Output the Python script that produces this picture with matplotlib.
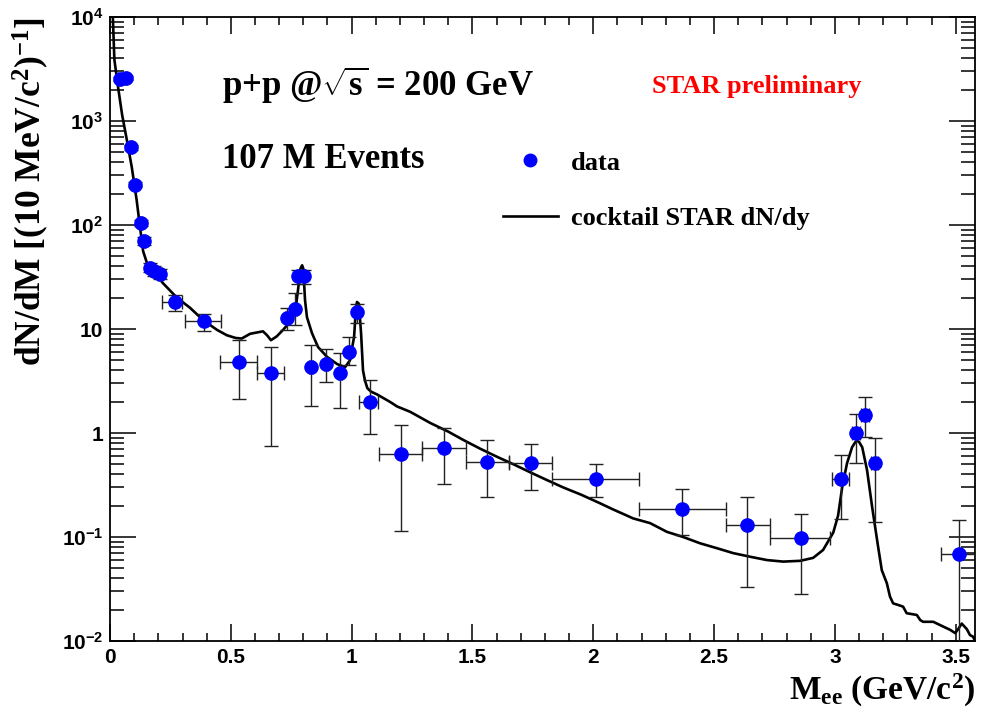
import numpy as np
import matplotlib
matplotlib.use('Agg')
import matplotlib.pyplot as plt
from matplotlib.lines import Line2D
from matplotlib.ticker import MultipleLocator, LogLocator, NullFormatter

plt.rcParams['mathtext.fontset'] = 'custom'
plt.rcParams['mathtext.rm'] = 'Liberation Serif:bold'
plt.rcParams['mathtext.it'] = 'Liberation Serif:bold'
plt.rcParams['mathtext.bf'] = 'Liberation Serif:bold'
plt.rcParams['mathtext.sf'] = 'Liberation Sans:bold'

# data points
m_data = [0.041, 0.066, 0.087, 0.104, 0.128, 0.141, 0.166, 0.182, 0.207, 0.27,
          0.39, 0.534, 0.666, 0.733, 0.766, 0.78, 0.802, 0.832, 0.894, 0.952,
          0.989, 1.022, 1.076, 1.204, 1.382, 1.56, 1.742, 2.01, 2.368, 2.637,
          2.86, 3.026, 3.088, 3.125, 3.166, 3.514]
y_data = [2550, 2600, 560, 245, 104, 70, 39, 36, 34, 18,
          11.9, 4.8, 3.8, 12.8, 15.5, 32, 32, 4.3, 4.6, 3.8,
          6.0, 14.5, 2.0, 0.63, 0.71, 0.53, 0.52, 0.36, 0.185, 0.13,
          0.097, 0.36, 1.0, 1.5, 0.52, 0.068]
y_low = [2450, 2500, 530, 232, 97, 64, 35, 32, 30, 15,
         9.6, 2.1, 0.75, 9.8, 11, 27, 27, 1.8, 3.1, 1.75,
         4.5, 11.5, 0.98, 0.115, 0.32, 0.24, 0.28, 0.24, 0.105, 0.033,
         0.028, 0.15, 0.52, 0.92, 0.14, 0.005]
y_high = [2650, 2700, 590, 258, 111, 76, 43, 40, 38, 21,
          14, 7.8, 6.7, 16, 22, 37, 37, 7.0, 6.4, 5.9,
          8.3, 17.5, 3.2, 1.19, 1.12, 0.86, 0.78, 0.50, 0.29, 0.24,
          0.165, 0.61, 1.52, 2.2, 0.9, 0.145]
m_low = [0.035, 0.06, 0.082, 0.099, 0.123, 0.136, 0.161, 0.177, 0.2, 0.215,
         0.31, 0.455, 0.61, 0.725, 0.757, 0.775, 0.797, 0.822, 0.884, 0.942,
         0.98, 1.015, 1.03, 1.113, 1.291, 1.473, 1.651, 1.83, 2.19, 2.55,
         2.73, 2.99, 3.072, 3.11, 3.15, 3.44]
m_high = [0.047, 0.072, 0.092, 0.109, 0.133, 0.146, 0.171, 0.187, 0.214, 0.298,
          0.46, 0.61, 0.72, 0.742, 0.772, 0.785, 0.807, 0.842, 0.904, 0.962,
          0.998, 1.03, 1.11, 1.291, 1.473, 1.651, 1.83, 2.19, 2.55, 2.73,
          2.98, 3.06, 3.104, 3.14, 3.18, 3.58]

# cocktail curve
m_cock = [0.012, 0.018, 0.033, 0.05, 0.07, 0.09, 0.11, 0.124, 0.137, 0.153,
          0.178, 0.219, 0.277, 0.331, 0.385, 0.443, 0.484, 0.52, 0.545, 0.58,
          0.633, 0.65, 0.666, 0.69, 0.716, 0.745, 0.766, 0.778, 0.788, 0.795,
          0.80, 0.807, 0.815, 0.836, 0.861, 0.898, 0.94, 0.973, 0.993, 1.01,
          1.018, 1.022, 1.03, 1.039, 1.047, 1.055, 1.065, 1.08, 1.105, 1.159,
          1.188, 1.242, 1.325, 1.40, 1.461, 1.53, 1.602, 1.67, 1.738, 1.80,
          1.875, 1.95, 2.028, 2.08, 2.165, 2.235, 2.305, 2.372, 2.442, 2.512,
          2.579, 2.649, 2.719, 2.786, 2.856, 2.91, 2.951, 2.993, 3.013, 3.03,
          3.05, 3.071, 3.085, 3.092, 3.10, 3.113, 3.133, 3.154, 3.179, 3.194,
          3.215, 3.228, 3.241, 3.262, 3.282, 3.297, 3.339, 3.353, 3.365, 3.407,
          3.436, 3.477, 3.498, 3.51, 3.525, 3.546, 3.559, 3.572, 3.58]
y_cock = [9500, 3900, 2140, 1150, 650, 360, 175, 96, 56, 43,
          37, 27.6, 20, 16, 12.2, 9.8, 8.7, 8.2, 8.1, 9.0,
          9.5, 8.7, 7.8, 8.5, 9.8, 11.7, 14.3, 23.7, 38, 41,
          38, 19, 13, 9.1, 6.7, 5.4, 4.6, 4.3, 5.0, 8.4,
          16, 18.2, 17.5, 9.1, 4.0, 3.2, 2.7, 2.5, 2.35, 1.99,
          1.8, 1.6, 1.25, 1.03, 0.86, 0.71, 0.59, 0.50, 0.42, 0.36,
          0.30, 0.255, 0.211, 0.185, 0.151, 0.136, 0.112, 0.10, 0.087, 0.078,
          0.070, 0.0646, 0.060, 0.058, 0.059, 0.063, 0.075, 0.11, 0.16, 0.30,
          0.51, 0.73, 0.82, 0.84, 0.82, 0.73, 0.44, 0.195, 0.08, 0.048,
          0.0359, 0.0267, 0.023, 0.0222, 0.0214, 0.0185, 0.0178, 0.0159, 0.0153, 0.0153,
          0.0142, 0.0128, 0.0119, 0.013, 0.0147, 0.013, 0.0114, 0.011, 0.010]

yticks = [1e-2, 1e-1, 1, 10, 1e2, 1e3, 1e4]
ytick_labels = [r'$\mathsf{10^{-2}}$', r'$\mathsf{10^{-1}}$', '1', '10',
                r'$\mathsf{10^{2}}$', r'$\mathsf{10^{3}}$', r'$\mathsf{10^{4}}$']
xticks = [0, 0.5, 1, 1.5, 2, 2.5, 3, 3.5]
xtick_labels = ['0', '0.5', '1', '1.5', '2', '2.5', '3', '3.5']

fig = plt.figure(figsize=(9.85, 7.15), dpi=100)
ax = fig.add_axes([0.1117, 0.1035, 0.8782, 0.8727])

y = np.array(y_data)
m = np.array(m_data)
yerr = [y - np.array(y_low), np.array(y_high) - y]
xerr = [m - np.array(m_low), np.array(m_high) - m]

line, = ax.plot(m_cock, y_cock, color='black', lw=1.9, zorder=2)
ax.errorbar(m, y, yerr=yerr, xerr=xerr, fmt='none', ecolor='#222222',
            elinewidth=1.0, capsize=5, capthick=1.0, zorder=3)
ax.plot(m, y, 'o', color='#0000ff', ms=9.5, mec='#0000ff', zorder=4)

ax.set_yscale('log')
ax.set_xlim(0, 3.58)
ax.set_ylim(1e-2, 1e4)

ax.set_xticks(xticks)
ax.set_xticklabels(xtick_labels, fontfamily='Liberation Sans', fontweight='bold', fontsize=15)
ax.xaxis.set_minor_locator(MultipleLocator(0.1))
ax.set_yticks(yticks)
ax.set_yticklabels(ytick_labels, fontfamily='Liberation Sans', fontweight='bold', fontsize=15)
ax.yaxis.set_minor_locator(LogLocator(base=10, subs=np.arange(2, 10), numticks=20))
ax.yaxis.set_minor_formatter(NullFormatter())

ax.tick_params(axis='both', which='both', direction='in', top=True, right=True, width=1.1)
ax.tick_params(axis='x', which='major', length=12, pad=5)
ax.tick_params(axis='x', which='minor', length=6)
ax.tick_params(axis='y', which='major', length=19, pad=5)
ax.tick_params(axis='y', which='minor', length=10)
for s in ax.spines.values():
    s.set_linewidth(1.3)

ax.set_xlabel(r'M$_{\mathrm{ee}}$ (GeV/c$^{2}$)', fontfamily='Liberation Serif',
              fontweight='bold', fontsize=24, loc='right')
ax.xaxis.set_label_coords(1.0, -0.05)
ax.set_ylabel(r'dN/dM [(10 MeV/c$^{2}$)$^{-1}$]', fontfamily='Liberation Serif',
              fontweight='bold', fontsize=25.5, loc='top')
ax.yaxis.set_label_coords(-0.068, 1.0)

ax.text(0.129, 0.891, r'p+p @$\sqrt{\mathrm{s}}$ = 200 GeV', transform=ax.transAxes,
        fontfamily='Liberation Serif', fontweight='bold', fontsize=25, va='center')
ax.text(0.129, 0.771, '107 M Events', transform=ax.transAxes,
        fontfamily='Liberation Serif', fontweight='bold', fontsize=25, va='center')
ax.text(0.627, 0.888, 'STAR preliminary', transform=ax.transAxes, color='#ff0000',
        fontfamily='Liberation Serif', fontweight='bold', fontsize=19, va='center')

data_handle = Line2D([], [], ls='none', marker='o', color='#0000ff', ms=9)
ax.legend([data_handle, line], ['data', 'cocktail STAR dN/dy'], loc='center left',
          bbox_to_anchor=(0.454, 0.722), frameon=False, borderpad=0, borderaxespad=0,
          handlelength=2.08, handletextpad=0.5, labelspacing=1.2,
          prop={'family': 'Liberation Serif', 'weight': 'bold', 'size': 19})

fig.savefig('out.png', dpi=100)
